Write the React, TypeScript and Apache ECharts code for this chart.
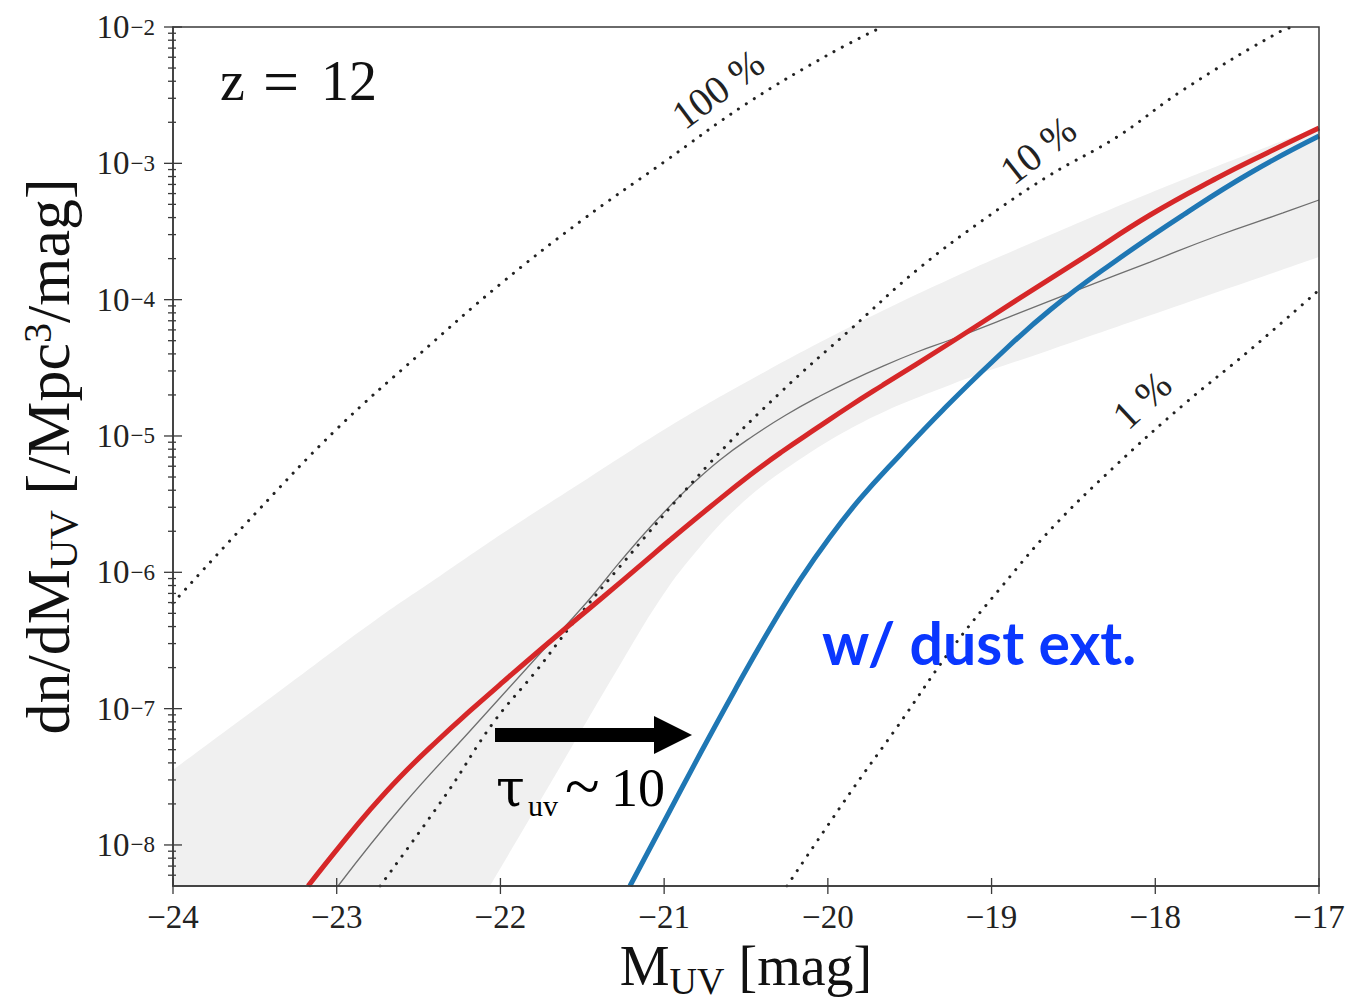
import React, { useEffect, useRef } from 'react';
import * as echarts from 'echarts';

// ---- axis ticks ----
const xTicks = [-24, -23, -22, -21, -20, -19, -18, -17];
const yMajorTicks = [1e-8, 1e-7, 1e-6, 1e-5, 1e-4, 1e-3, 1e-2];

// ---- curves: x = M_UV [mag], y = log10(dn/dM_UV) ----
const eff100M = [-24, -23.5, -23, -22.5, -22, -21.5, -21, -20.5, -20, -19.67];
const eff100Log = [-6.225, -5.572, -4.949, -4.406, -3.885, -3.416, -2.99, -2.565, -2.205, -2.0];

const eff10M = [-22.735, -22.326, -22.045, -21.777, -21.575, -21.288, -20.72, -20.274, -19.865, -19.455, -19.052, -18.643, -18.234, -17.83, -17.22, -17.13];
const eff10Log = [-8.301, -7.619, -7.105, -6.717, -6.401, -5.983, -5.198, -4.663, -4.222, -3.782, -3.416, -3.086, -2.807, -2.462, -2.022, -2.0];

const eff1M = [-20.25, -19.865, -19.577, -19.236, -18.93, -18.625, -18.258, -17.83, -17.421, -17.0];
const eff1Log = [-8.301, -7.619, -7.135, -6.548, -6.093, -5.668, -5.235, -4.773, -4.369, -3.929];

const redM = [-23.175, -22.98, -22.797, -22.613, -22.387, -22.186, -21.984, -21.679, -21.373, -21.129, -20.964, -20.72, -20.475, -20.274, -20.066, -19.865, -19.663, -19.254, -18.845, -18.441, -18.032, -17.623, -17.317, -17.0];
const redLog = [-8.301, -8.007, -7.743, -7.501, -7.237, -7.017, -6.804, -6.489, -6.181, -5.932, -5.763, -5.521, -5.286, -5.11, -4.941, -4.78, -4.626, -4.318, -4.002, -3.694, -3.379, -3.108, -2.924, -2.741];

const blueM = [-21.209, -20.995, -20.781, -20.567, -20.366, -20.17, -19.987, -19.804, -19.559, -19.297, -18.997, -18.643, -18.234, -17.83, -17.421, -17.0];
const blueLog = [-8.301, -7.817, -7.333, -6.863, -6.438, -6.056, -5.741, -5.462, -5.139, -4.809, -4.457, -4.076, -3.709, -3.379, -3.071, -2.8];

const grayM = [-22.992, -22.595, -22.186, -21.777, -21.471, -21.27, -21.068, -20.86, -20.659, -20.457, -20.256, -20.048, -19.865, -19.663, -19.455, -19.254, -18.845, -18.441, -18.032, -17.623, -17.22, -17.0];
const grayLog = [-8.301, -7.707, -7.164, -6.621, -6.218, -5.924, -5.646, -5.389, -5.176, -5.0, -4.846, -4.707, -4.597, -4.487, -4.384, -4.296, -4.105, -3.914, -3.724, -3.533, -3.364, -3.269];

const bandUpperM = [-24, -23.377, -22.754, -22.369, -21.984, -21.471, -20.964, -20.475, -19.865, -19.254, -18.643, -18.032, -17.525, -17.0];
const bandUpperLog = [-7.45, -6.896, -6.342, -6.027, -5.712, -5.315, -4.927, -4.589, -4.201, -3.848, -3.526, -3.218, -2.976, -2.734];
const bandLowerM = [-22.064, -21.636, -21.27, -21.007, -20.781, -20.537, -20.231, -19.785, -19.254, -18.643, -17.83, -17.0];
const bandLowerLog = [-8.301, -7.428, -6.68, -6.166, -5.814, -5.506, -5.22, -4.897, -4.626, -4.369, -4.032, -3.687];

const SERIF = '"Liberation Serif", "DejaVu Serif", serif';
const AXIS_COLOR = '#3a3a3a';

const pairs = (xs: number[], logs: number[]) => xs.map((x, i) => [x, Math.pow(10, logs[i])]);

const yMinorTicks: number[] = [];
for (let d = -9; d <= -3; d++) {
  for (let k = 2; k <= 9; k++) {
    const v = k * Math.pow(10, d);
    if (v > 5.5e-9 && v < 1e-2) yMinorTicks.push(v);
  }
}

export default function App() {
  const ref = useRef<HTMLDivElement>(null);

  useEffect(() => {
    if (!ref.current) return;
    const chart = echarts.init(ref.current, undefined, { renderer: 'svg' });

    const dotted = { color: '#222', width: 3, type: [0.1, 9.2], cap: 'round' };
    const txt = (x: number, y: number, text: string, fontSize: number, extra: any = {}) => ({
      type: 'text', x, y, z: 20,
      style: { text, fontFamily: SERIF, fontSize, fill: '#111', textAlign: 'left', textVerticalAlign: 'middle', ...extra },
    });

    const option: any = {
      animation: false,
      backgroundColor: '#ffffff',
      grid: {
        left: 173, top: 27, width: 1146, height: 859,
        show: true, borderColor: AXIS_COLOR, borderWidth: 1.5,
        backgroundColor: 'transparent', z: 10,
      },
      xAxis: {
        type: 'value', min: -24, max: -17, interval: 1, z: 10,
        axisLine: { show: true, lineStyle: { color: AXIS_COLOR, width: 1.5 } },
        axisTick: { show: false },
        splitLine: { show: false },
        axisLabel: {
          margin: 14, color: '#222', fontFamily: SERIF, fontSize: 33,
          formatter: (v: number) => (v < 0 ? '\u2212' + Math.abs(v) : String(v)),
        },
        name: '{m|M}{s|UV}{m| [mag]}',
        nameLocation: 'middle',
        nameGap: 52,
        nameTextStyle: {
          rich: {
            m: { fontFamily: SERIF, fontSize: 56, lineHeight: 62, verticalAlign: 'top', color: '#111' },
            s: { fontFamily: SERIF, fontSize: 38, lineHeight: 36, verticalAlign: 'bottom', color: '#111' },
          },
        },
      },
      yAxis: {
        type: 'log', logBase: 10, min: 5e-9, max: 1e-2, z: 10,
        axisLine: { show: true, lineStyle: { color: AXIS_COLOR, width: 1.5 } },
        axisTick: { show: false },
        minorTick: { show: false },
        splitLine: { show: false },
        axisLabel: {
          margin: 18, interval: 0, showMinLabel: true, showMaxLabel: true,
          formatter: (v: number) => {
            const l = Math.log10(v);
            const e = Math.round(l);
            if (Math.abs(l - e) > 1e-6) return '';
            return '{b|10}{e|\u2212' + Math.abs(e) + '}';
          },
          rich: {
            b: { fontFamily: SERIF, fontSize: 33, lineHeight: 33, padding: [10, 0, 10, 0], color: '#222' },
            e: { fontFamily: SERIF, fontSize: 23, lineHeight: 23, padding: [5, 0, 0, 1], verticalAlign: 'top', color: '#222' },
          },
        },
        name: '{t|dn/dM}{s|UV}{t| [/Mpc}{p|3}{t|/mag]}',
        nameLocation: 'middle',
        nameRotate: 90,
        nameGap: 90,
        nameTextStyle: {
          rich: {
            t: { fontFamily: SERIF, fontSize: 62, lineHeight: 66, verticalAlign: 'top', color: '#111' },
            s: { fontFamily: SERIF, fontSize: 41, lineHeight: 40, verticalAlign: 'bottom', color: '#111' },
            p: { fontFamily: SERIF, fontSize: 40, lineHeight: 40, verticalAlign: 'top', color: '#111' },
          },
        },
      },
      series: [
        {
          type: 'line', name: 'range upper', data: pairs(bandUpperM, bandUpperLog), symbol: 'none', smooth: 0.4,
          lineStyle: { width: 0, opacity: 0 }, areaStyle: { color: '#f0f0f0', opacity: 1, origin: 'start' }, z: 1, silent: true,
        },
        {
          type: 'line', name: 'range lower', data: pairs(bandLowerM, bandLowerLog), symbol: 'none', smooth: 0.4,
          lineStyle: { width: 0, opacity: 0 }, areaStyle: { color: '#ffffff', opacity: 1, origin: 'start' }, z: 1, silent: true,
        },
        {
          type: 'line', name: 'model', data: pairs(grayM, grayLog), symbol: 'none', smooth: 0.45,
          lineStyle: { color: '#6f6f6f', width: 1.3 }, z: 3, silent: true,
        },
        { type: 'line', name: '100 %', data: pairs(eff100M, eff100Log), symbol: 'none', smooth: 0.4, lineStyle: dotted, z: 4, silent: true },
        { type: 'line', name: '10 %', data: pairs(eff10M, eff10Log), symbol: 'none', smooth: 0.4, lineStyle: dotted, z: 4, silent: true },
        { type: 'line', name: '1 %', data: pairs(eff1M, eff1Log), symbol: 'none', smooth: 0.4, lineStyle: dotted, z: 4, silent: true },
        {
          type: 'line', name: 'intrinsic', data: pairs(redM, redLog), symbol: 'none', smooth: 0.45,
          lineStyle: { color: '#d62728', width: 5 }, z: 5, silent: true,
        },
        {
          type: 'line', name: 'w/ dust ext.', data: pairs(blueM, blueLog), symbol: 'none', smooth: 0.45,
          lineStyle: { color: '#1f77b4', width: 5 }, z: 6, silent: true,
        },
        {
          type: 'custom', name: 'yTicks', silent: true, z: 12,
          data: [
            ...yMajorTicks.map((v) => [-24, v, 9, 9]),
            ...yMinorTicks.map((v) => [-24, v, 5, 3]),
          ],
          renderItem: (params: any, api: any) => {
            const p = api.coord([api.value(0), api.value(1)]);
            return {
              type: 'line',
              shape: { x1: p[0] - api.value(2), y1: p[1], x2: p[0] + api.value(3), y2: p[1] },
              style: { stroke: AXIS_COLOR, lineWidth: 1.3 },
            };
          },
        },
        {
          type: 'custom', name: 'xTicks', silent: true, z: 12,
          data: xTicks.map((v) => [v, 5e-9, 8, 8]),
          renderItem: (params: any, api: any) => {
            const p = api.coord([api.value(0), api.value(1)]);
            return {
              type: 'line',
              shape: { x1: p[0], y1: p[1] + api.value(2), x2: p[0], y2: p[1] - api.value(3) },
              style: { stroke: AXIS_COLOR, lineWidth: 1.3 },
            };
          },
        },
      ],
      graphic: [
        txt(220, 81, 'z', 56),
        txt(263, 81, '=', 64),
        txt(321, 81, '12', 56),
        {
          type: 'text', x: 718, y: 89, rotation: (37 * Math.PI) / 180, z: 20,
          style: { text: '100 %', fontFamily: SERIF, fontSize: 40, fill: '#222', textAlign: 'center', textVerticalAlign: 'middle' },
        },
        {
          type: 'text', x: 1038, y: 150, rotation: (38 * Math.PI) / 180, z: 20,
          style: { text: '10 %', fontFamily: SERIF, fontSize: 40, fill: '#222', textAlign: 'center', textVerticalAlign: 'middle' },
        },
        {
          type: 'text', x: 1142, y: 400, rotation: (43 * Math.PI) / 180, z: 20,
          style: { text: '1 %', fontFamily: SERIF, fontSize: 40, fill: '#222', textAlign: 'center', textVerticalAlign: 'middle' },
        },
        {
          type: 'text', x: 822, y: 642, z: 20,
          style: { text: 'w/ dust ext.', fontFamily: 'Lato, "Open Sans", sans-serif', fontWeight: 'bold', fontSize: 59, fill: '#0a37ff', textAlign: 'left', textVerticalAlign: 'middle' },
        },
        { type: 'rect', z: 20, shape: { x: 495, y: 728, width: 162, height: 14 }, style: { fill: '#000' } },
        { type: 'polygon', z: 20, shape: { points: [[654, 716], [692, 735], [654, 754]] }, style: { fill: '#000' } },
        txt(496, 788, '\u03c4', 52, { fontFamily: '"DejaVu Serif", serif', fill: '#000' }),
        txt(528, 805, 'uv', 30, { fill: '#000' }),
        txt(565, 786, '~', 64, { fill: '#000' }),
        txt(611, 788, '10', 54, { fill: '#000' }),
      ],
    };

    chart.setOption(option);
    return () => chart.dispose();
  }, []);

  return <div ref={ref} style={{ position: 'absolute', left: 0, top: 0, width: 1356, height: 1006, background: '#fff' }} />;
}
